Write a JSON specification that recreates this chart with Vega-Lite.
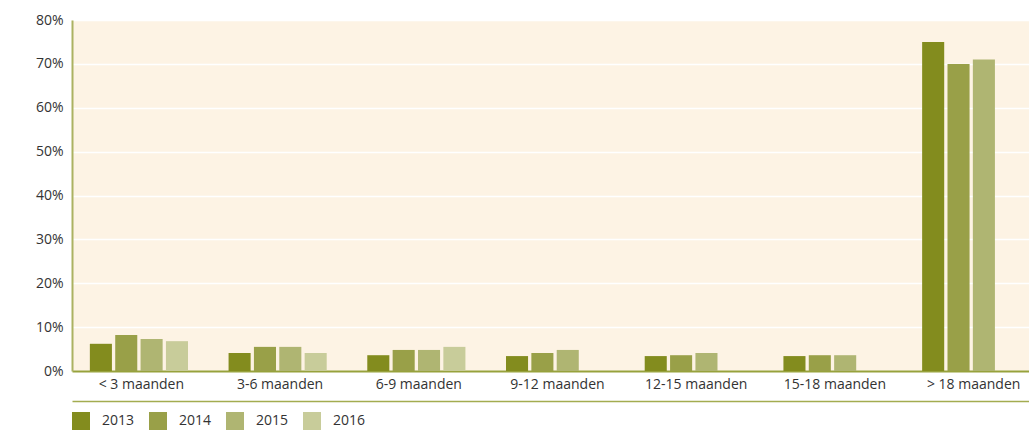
{
  "$schema": "https://vega.github.io/schema/vega-lite/v6.json",
  "width": 971,
  "height": 351,
  "autosize": {"type": "none"},
  "padding": {"left": 72, "top": 20, "right": 0, "bottom": 59},
  "background": "white",
  "config": {
    "font": "Open Sans",
    "view": {"fill": "#fdf3e4", "stroke": null},
    "axis": {"labelColor": "#333333", "labelFontSize": 14, "titleFontSize": 14}
  },
  "data": {
    "values": [
      {"cat": "< 3 maanden", "jaar": "2013", "v": 0.062},
      {"cat": "< 3 maanden", "jaar": "2014", "v": 0.082},
      {"cat": "< 3 maanden", "jaar": "2015", "v": 0.073},
      {"cat": "< 3 maanden", "jaar": "2016", "v": 0.068},
      {"cat": "3-6 maanden", "jaar": "2013", "v": 0.041},
      {"cat": "3-6 maanden", "jaar": "2014", "v": 0.055},
      {"cat": "3-6 maanden", "jaar": "2015", "v": 0.055},
      {"cat": "3-6 maanden", "jaar": "2016", "v": 0.041},
      {"cat": "6-9 maanden", "jaar": "2013", "v": 0.036},
      {"cat": "6-9 maanden", "jaar": "2014", "v": 0.048},
      {"cat": "6-9 maanden", "jaar": "2015", "v": 0.048},
      {"cat": "6-9 maanden", "jaar": "2016", "v": 0.055},
      {"cat": "9-12 maanden", "jaar": "2013", "v": 0.034},
      {"cat": "9-12 maanden", "jaar": "2014", "v": 0.041},
      {"cat": "9-12 maanden", "jaar": "2015", "v": 0.048},
      {"cat": "12-15 maanden", "jaar": "2013", "v": 0.034},
      {"cat": "12-15 maanden", "jaar": "2014", "v": 0.036},
      {"cat": "12-15 maanden", "jaar": "2015", "v": 0.041},
      {"cat": "15-18 maanden", "jaar": "2013", "v": 0.034},
      {"cat": "15-18 maanden", "jaar": "2014", "v": 0.036},
      {"cat": "15-18 maanden", "jaar": "2015", "v": 0.036},
      {"cat": "> 18 maanden", "jaar": "2013", "v": 0.75},
      {"cat": "> 18 maanden", "jaar": "2014", "v": 0.70},
      {"cat": "> 18 maanden", "jaar": "2015", "v": 0.71}
    ]
  },
  "layer": [
    {
      "mark": {"type": "bar"},
      "encoding": {
        "x": {
          "field": "cat", "type": "nominal", "sort": null, "title": null,
          "scale": {"paddingInner": 0, "paddingOuter": 0},
          "axis": {"labelAngle": 0, "ticks": false, "labelPadding": 6, "domainColor": "#97a23c", "domainWidth": 2}
        },
        "xOffset": {
          "field": "jaar", "type": "nominal",
          "scale": {"domain": ["2013", "2014", "2015", "2016"], "paddingInner": 0.13, "paddingOuter": 0.8, "align": 0.44}
        },
        "y": {
          "field": "v", "type": "quantitative", "title": null,
          "scale": {"domain": [0, 0.8], "nice": false},
          "axis": {"values": [0, 0.1, 0.2, 0.3, 0.4, 0.5, 0.6, 0.7, 0.8], "format": ".0%", "ticks": false, "labelPadding": 9, "gridColor": "#ffffff", "gridWidth": 1.5, "domainColor": "#abb262", "domainWidth": 2}
        },
        "color": {
          "field": "jaar", "type": "nominal", "title": null,
          "scale": {"domain": ["2013", "2014", "2015", "2016"], "range": ["#838c1e", "#99a048", "#afb572", "#c8cc9a"]},
          "legend": {"orient": "bottom", "direction": "horizontal", "symbolType": "square", "symbolSize": 324, "symbolStrokeWidth": 0, "labelFontSize": 14, "labelColor": "#333333", "columnPadding": 14, "labelOffset": 12, "offset": 11}
        }
      }
    },
    {
      "mark": {"type": "bar", "opacity": 0},
      "encoding": {
        "x": {
          "field": "cat", "type": "nominal", "sort": null, "title": null,
          "axis": {"orient": "bottom", "offset": 30, "labels": false, "ticks": false, "grid": false, "domainColor": "#a3ac50", "domainWidth": 1.5}
        },
        "y": {"field": "v", "type": "quantitative"}
      }
    }
  ],
  "resolve": {"axis": {"x": "independent"}}
}
